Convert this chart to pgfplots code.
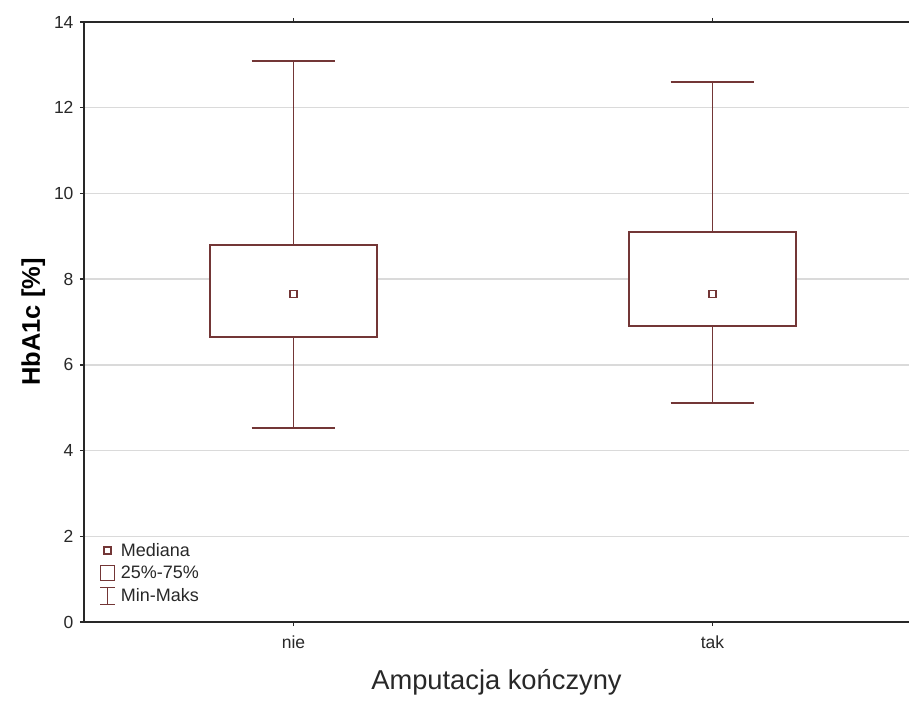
\documentclass[border=0pt]{standalone}
\usepackage{fontspec}
\setmainfont{Liberation Sans}
\usepackage{pgfplots}
\pgfplotsset{compat=1.18}
\definecolor{boxc}{RGB}{115,54,54}
\definecolor{gridc}{RGB}{218,218,218}
\definecolor{axc}{RGB}{40,40,40}
\pgfplotsset{
  medimg/.style={legend image code/.code={\draw[boxc, line width=1.6pt] (4pt,-3.5pt) rectangle (11pt,3.5pt);}},
  boximg/.style={legend image code/.code={\draw[boxc, line width=1.6pt] (0.5pt,-7.5pt) rectangle (14.5pt,7.5pt);}},
  wimg/.style={legend image code/.code={\draw[boxc, line width=1.6pt] (0pt,-8.5pt) -- (15pt,-8.5pt) (7.5pt,-8.5pt) -- (7.5pt,8.5pt) (0pt,8.5pt) -- (15pt,8.5pt);}},
  bx/.style={boxc, line width=1.9pt},
}
\begin{document}
\begin{tikzpicture}[x=1pt,y=1pt]
\begin{axis}[
  scale only axis,
  width=825pt, height=600pt,
  at={(0,0)}, anchor=south west,
  xmin=-0.5, xmax=1.469,
  ymin=0, ymax=14,
  xtick={0,1}, xticklabels={nie,tak},
  ytick={0,2,4,6,8,10,12,14},
  ymajorgrids,
  major grid style={gridc, line width=1.5pt},
  axis line style={draw=none},
  tick align=outside,
  ytick pos=left, xtick pos=both,
  major tick length=4pt,
  tick style={axc, line width=1.3pt},
  /pgf/number format/assume math mode=true,
  tick label style={font=\fontsize{17.5}{21}\selectfont, text=axc},
  yticklabel style={xshift=-3pt},
  xticklabel style={yshift=-6pt},
  ylabel={\textbf{HbA1c [\%]}},
  ylabel style={font=\fontsize{25.5}{30}\selectfont, text=black, yshift=2pt},
  xlabel={Amputacja kończyny},
  xlabel style={font=\fontsize{27.3}{32}\selectfont, text=axc, yshift=-14pt},
  clip=false,
  legend style={at={(axis description cs:0.017,0.137)}, anchor=north west,
    draw=none, fill=none, font=\fontsize{18}{21}\selectfont, text=axc,
    row sep=4.5pt, column sep=3pt, inner sep=1pt},
  legend cell align=left,
]
% nie
\addplot[bx, fill=white, forget plot] coordinates {(-0.2,6.66) (0.2,6.66) (0.2,8.80) (-0.2,8.80)} -- cycle;
\addplot[bx, forget plot] coordinates {(0,8.80) (0,13.09)};
\addplot[bx, forget plot] coordinates {(-0.1,13.09) (0.1,13.09)};
\addplot[bx, forget plot] coordinates {(0,6.66) (0,4.52)};
\addplot[bx, forget plot] coordinates {(-0.1,4.52) (0.1,4.52)};
% tak
\addplot[bx, fill=white, forget plot] coordinates {(0.8,6.91) (1.2,6.91) (1.2,9.10) (0.8,9.10)} -- cycle;
\addplot[bx, forget plot] coordinates {(1,9.10) (1,12.61)};
\addplot[bx, forget plot] coordinates {(0.9,12.61) (1.1,12.61)};
\addplot[bx, forget plot] coordinates {(1,6.91) (1,5.11)};
\addplot[bx, forget plot] coordinates {(0.9,5.11) (1.1,5.11)};
% medians
\addplot[only marks, mark=square, mark size=3.5pt, boxc, line width=1.7pt, forget plot]
  coordinates {(0,7.65) (1,7.65)};
\addlegendimage{medimg}
\addlegendentry{Mediana}
\addlegendimage{boximg}
\addlegendentry{25\%-75\%}
\addlegendimage{wimg}
\addlegendentry{Min-Maks}
\draw[axc, line width=1.8pt] (rel axis cs:1,1) -- (rel axis cs:0,1) -- (rel axis cs:0,0) -- (rel axis cs:1,0);
\end{axis}
\pgfresetboundingbox
\path (-84pt,-80pt) rectangle (825pt,622pt);
\end{tikzpicture}
\end{document}
